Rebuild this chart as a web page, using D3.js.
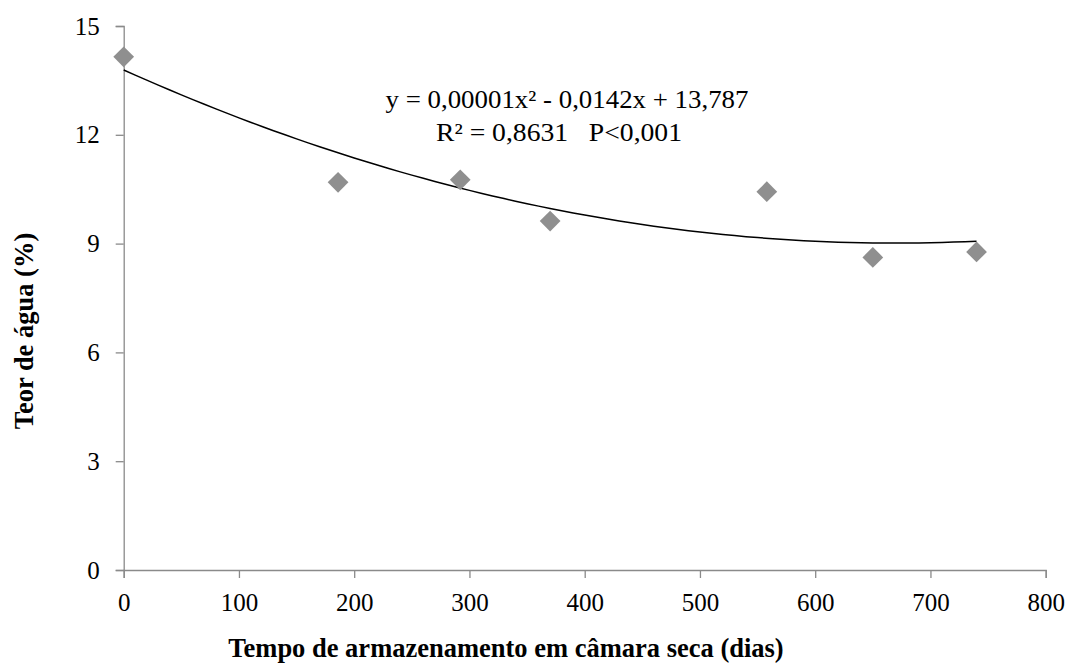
<!DOCTYPE html>
<html>
<head>
<meta charset="utf-8">
<script src="https://d3js.org/d3.v7.min.js"></script>
<style>
  body { margin: 0; background: #fff; }
  svg text { font-family: "Liberation Serif", "Times New Roman", serif; fill: #000; }
</style>
</head>
<body>
<svg id="chart" width="1070" height="666"></svg>
<script>
// measured points: storage time (days) and water content (%)
const dias = [0, 186, 292, 370, 558, 650, 740];
const teor = [14.15, 10.69, 10.76, 9.62, 10.43, 8.62, 8.77];
// quadratic trend coefficients (a, b, c)
const trendCoef = [0.00001065, -0.01426, 13.787];
const xTicks = [0, 100, 200, 300, 400, 500, 600, 700, 800];
const yTicks = [0, 3, 6, 9, 12, 15];
const eqLines = ["y = 0,00001x² - 0,0142x + 13,787", "R² = 0,8631   P<0,001"];

let svg = d3.select("svg#chart");

let x = d3.scaleLinear().domain([0, 800]).range([123.7, 1045.7]);
let y = d3.scaleLinear().domain([0, 15]).range([570, 26]);

let axisColor = "#8a8a8a";

// x axis
let gx = svg.append("g").attr("transform", "translate(0,570)")
  .call(d3.axisBottom(x).tickValues(xTicks).tickSize(8).tickPadding(15).tickFormat(d3.format("d")));

// y axis
let gy = svg.append("g").attr("transform", "translate(123.7,0)")
  .call(d3.axisLeft(y).tickValues(yTicks).tickSize(8).tickPadding(16).tickFormat(d3.format("d")));

[gx, gy].forEach(g => {
  g.attr("font-family", "Liberation Serif");
  g.select(".domain").attr("stroke", axisColor).attr("stroke-width", 1.3);
  g.selectAll(".tick line").attr("stroke", axisColor).attr("stroke-width", 1.3);
  g.selectAll(".tick text")
    .attr("fill", "#000")
    .style("font-size", "25px");
});

// trend line
let trendX = d3.range(0, 741, 10);
let line = d3.line()
  .x(d => x(d))
  .y(d => y(trendCoef[0] * d * d + trendCoef[1] * d + trendCoef[2]));
svg.append("path")
  .datum(trendX)
  .attr("d", line)
  .attr("fill", "none")
  .attr("stroke", "#000")
  .attr("stroke-width", 1.5);

// points (diamonds)
let diamond = d3.symbol().type(d3.symbolSquare).size(215);
dias.forEach((d, i) => {
  svg.append("path")
    .attr("d", diamond())
    .attr("transform", "translate(" + x(d) + "," + y(teor[i]) + ") rotate(45)")
    .attr("fill", "#8f8f8f");
});

// equation text
svg.append("text")
  .attr("x", 567).attr("y", 108)
  .attr("text-anchor", "middle")
  .attr("textLength", 363)
  .attr("lengthAdjust", "spacingAndGlyphs")
  .style("font-size", "25px")
  .text(eqLines[0]);
svg.append("text")
  .attr("x", 559).attr("y", 141)
  .attr("text-anchor", "middle")
  .attr("textLength", 246)
  .attr("lengthAdjust", "spacingAndGlyphs")
  .style("font-size", "25px")
  .style("white-space", "pre")
  .text(eqLines[1]);

// axis titles
svg.append("text")
  .attr("x", 506).attr("y", 657)
  .attr("text-anchor", "middle")
  .style("font-size", "26.5px")
  .style("font-weight", "bold")
  .text("Tempo de armazenamento em câmara seca (dias)");

svg.append("text")
  .attr("transform", "translate(33,331) rotate(-90)")
  .attr("text-anchor", "middle")
  .style("font-size", "26.5px")
  .style("font-weight", "bold")
  .text("Teor de água (%)");
</script>
</body>
</html>
